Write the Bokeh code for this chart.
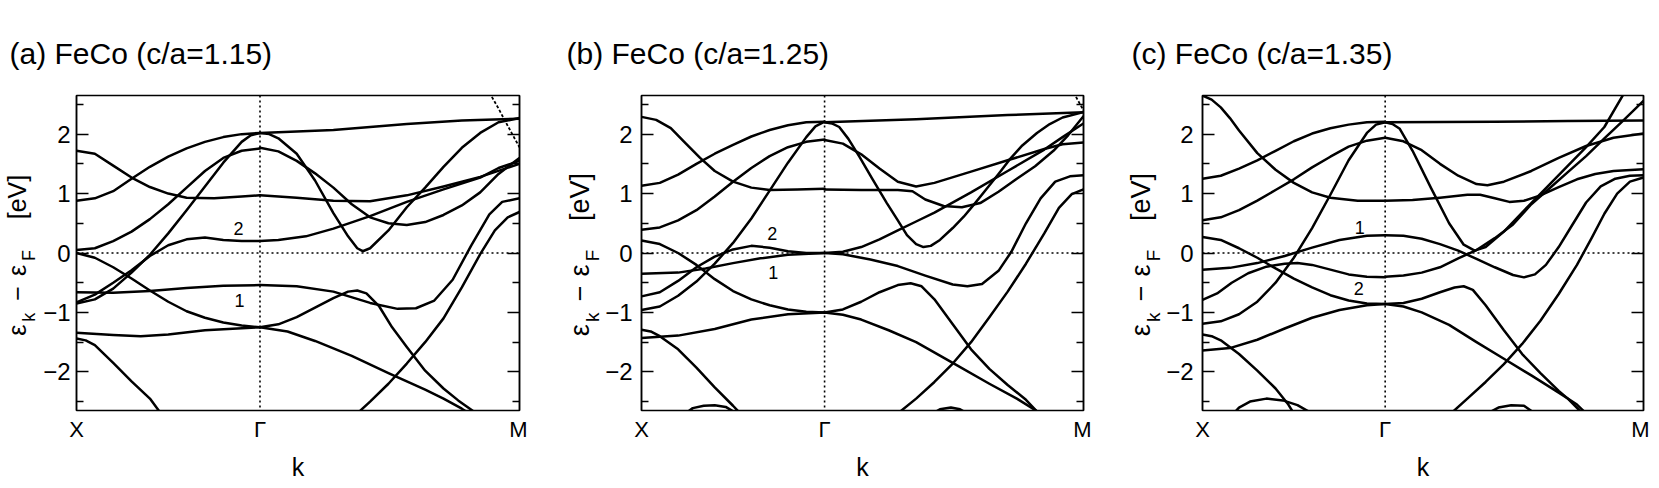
import math
from bokeh.plotting import figure
from bokeh.models import Range1d, LinearAxis, FixedTicker, Span, ColumnDataSource
from bokeh.layouts import row
from bokeh.embed import file_html
from bokeh.resources import INLINE
from bokeh.core.properties import value

KM = 1 + math.sqrt(2)          # position of M (X=0, Gamma=1)
TITLES = ["(a) FeCo (c/a=1.15)", "(b) FeCo (c/a=1.25)", "(c) FeCo (c/a=1.35)"]
K_POINTS = [0, 1, KM]
K_LABELS = ["X", "\u0393", "M"]
Y_TICKS = [-2, -1, 0, 1, 2]
Y_MINOR = [-2.5, -1.5, -0.5, 0.5, 1.5, 2.5]
# pieces of the y-axis title  "eps_k - eps_F  [eV]"  (position along the axis in eV)
YLAB_MAIN_POS = [-1.30, -0.68, -0.295, 0.942]
YLAB_MAIN_TXT = ["\u03b5", "\u2212", "\u03b5", "[eV]"]
YLAB_SUB_POS = [-1.08, -0.04]
YLAB_SUB_TXT = ["k", "F"]

# band labels "1" and "2" (k, E, text)
A_TAGS_K = [0.883, 0.888]; A_TAGS_E = [0.41, -0.80]; A_TAGS_T = ["2", "1"]
B_TAGS_K = [0.714, 0.719]; B_TAGS_E = [0.33, -0.33]; B_TAGS_T = ["2", "1"]
C_TAGS_K = [0.861, 0.856]; C_TAGS_E = [0.43, -0.60]; C_TAGS_T = ["1", "2"]

# ---- panel (a) c/a = 1.15 : bands as (k, E[eV]) ----
A_BANDS = [
    [(0,1.72),(0.1,1.67),(0.2,1.47),(0.3,1.27),(0.4,1.11),(0.5,1.0),(0.6,0.93),(0.75,0.92),(0.9,0.95),(1.0,0.97)],
    [(0,0.88),(0.1,0.92),(0.2,1.04),(0.3,1.25),(0.4,1.45),(0.5,1.62),(0.6,1.76),(0.7,1.87),(0.8,1.95),(0.9,2.0),(1.0,2.02)],
    [(0,0.05),(0.1,0.08),(0.2,0.2),(0.3,0.36),(0.4,0.57),(0.5,0.82),(0.6,1.1),(0.7,1.38),(0.8,1.6),(0.9,1.72),(1.0,1.76)],
    [(0,-0.85),(0.1,-0.78),(0.2,-0.6),(0.3,-0.33),(0.4,-0.03),(0.5,0.33),(0.6,0.72),(0.7,1.12),(0.8,1.52),(0.9,1.87),(0.95,1.98),(1.0,2.02)],
    [(0,-0.83),(0.1,-0.7),(0.2,-0.5),(0.3,-0.29),(0.4,-0.05),(0.5,0.13),(0.6,0.23),(0.7,0.26),(0.8,0.22),(0.9,0.2),(1.0,0.2)],
    [(0,0.0),(0.1,-0.08),(0.2,-0.24),(0.3,-0.43),(0.4,-0.63),(0.5,-0.82),(0.6,-0.98),(0.7,-1.09),(0.8,-1.17),(0.9,-1.22),(1.0,-1.25)],
    [(0,-0.66),(0.2,-0.67),(0.4,-0.64),(0.6,-0.59),(0.8,-0.55),(1.0,-0.54)],
    [(0,-1.34),(0.2,-1.38),(0.35,-1.4),(0.5,-1.37),(0.7,-1.3),(1.0,-1.25)],
    [(0,-1.44),(0.05,-1.47),(0.1,-1.55),(0.2,-1.85),(0.3,-2.16),(0.4,-2.45),(0.46,-2.7)],
    [(1.0,2.02),(1.4,2.07),(1.8,2.17),(2.1,2.23),(2.414,2.26)],
    [(1.0,2.02),(1.05,2.0),(1.1,1.93),(1.2,1.67),(1.3,1.22),(1.4,0.67),(1.48,0.28),(1.53,0.08),(1.56,0.03),(1.6,0.08),(1.7,0.38),(1.8,0.77),(1.9,1.1),(2.0,1.45),(2.1,1.77),(2.2,2.02),(2.3,2.2),(2.414,2.27)],
    [(1.0,1.77),(1.1,1.71),(1.2,1.55),(1.3,1.34),(1.4,1.1),(1.5,0.82),(1.6,0.6),(1.7,0.5),(1.8,0.47),(1.9,0.52),(2.0,0.64),(2.1,0.8),(2.2,1.02),(2.3,1.33),(2.414,1.6)],
    [(1.0,0.97),(1.2,0.93),(1.4,0.88),(1.6,0.87),(1.8,0.97),(2.0,1.12),(2.2,1.28),(2.414,1.5)],
    [(1.0,0.2),(1.1,0.22),(1.25,0.28),(1.4,0.41),(1.6,0.62),(1.8,0.86),(2.0,1.07),(2.2,1.27),(2.3,1.43),(2.414,1.55)],
    [(1.0,-0.54),(1.2,-0.56),(1.4,-0.65),(1.6,-0.84),(1.75,-0.94),(1.85,-0.93),(1.95,-0.8),(2.05,-0.45),(2.15,0.12),(2.25,0.65),(2.32,0.86),(2.414,0.92)],
    [(1.0,-1.25),(1.1,-1.2),(1.2,-1.08),(1.3,-0.92),(1.4,-0.76),(1.48,-0.65),(1.53,-0.63),(1.58,-0.68),(1.65,-0.9),(1.72,-1.25),(1.8,-1.58),(1.9,-1.98),(2.0,-2.28),(2.08,-2.48),(2.18,-2.7)],
    [(1.0,-1.25),(1.15,-1.32),(1.3,-1.48),(1.5,-1.73),(1.7,-2.02),(1.9,-2.3),(2.0,-2.45),(2.1,-2.62),(2.14,-2.7)],
    [(1.53,-2.7),(1.6,-2.5),(1.7,-2.2),(1.8,-1.86),(1.9,-1.5),(2.0,-1.1),(2.1,-0.58),(2.2,-0.02),(2.28,0.38),(2.35,0.6),(2.414,0.69)],
]
A_DASHED = [[(2.25,2.7),(2.3,2.43),(2.35,2.14),(2.414,1.78)]]

# ---- panel (b) c/a = 1.25 ----
B_BANDS = [
    [(0,2.29),(0.08,2.24),(0.16,2.1),(0.24,1.85),(0.32,1.6),(0.4,1.38),(0.5,1.2),(0.6,1.1),(0.7,1.06),(0.85,1.07),(1.0,1.08)],
    [(0,1.13),(0.1,1.18),(0.2,1.32),(0.3,1.5),(0.4,1.67),(0.5,1.82),(0.6,1.96),(0.7,2.07),(0.8,2.15),(0.9,2.2),(1.0,2.21)],
    [(0,0.39),(0.1,0.43),(0.2,0.55),(0.3,0.72),(0.4,0.95),(0.5,1.2),(0.6,1.43),(0.7,1.63),(0.8,1.78),(0.9,1.87),(1.0,1.91)],
    [(0,0.21),(0.1,0.15),(0.2,0.0),(0.3,-0.2),(0.4,-0.44),(0.5,-0.64),(0.6,-0.78),(0.7,-0.88),(0.8,-0.95),(0.9,-0.99),(1.0,-1.0)],
    [(0,-0.35),(0.2,-0.33),(0.35,-0.26),(0.5,-0.17),(0.65,-0.09),(0.8,-0.03),(1.0,0.0)],
    [(0,-0.73),(0.1,-0.66),(0.2,-0.47),(0.3,-0.24),(0.4,-0.06),(0.5,0.06),(0.6,0.12),(0.7,0.09),(0.8,0.03),(0.9,0.0),(1.0,0.0)],
    [(0,-0.96),(0.1,-0.9),(0.2,-0.72),(0.3,-0.48),(0.4,-0.18),(0.5,0.17),(0.6,0.58),(0.7,1.05),(0.8,1.52),(0.9,1.95),(0.95,2.13),(1.0,2.21)],
    [(0,-1.43),(0.2,-1.39),(0.4,-1.28),(0.6,-1.12),(0.8,-1.03),(1.0,-1.0)],
    [(0,-1.29),(0.05,-1.32),(0.1,-1.4),(0.2,-1.62),(0.3,-1.93),(0.4,-2.26),(0.5,-2.57),(0.54,-2.7)],
    [(0.24,-2.7),(0.28,-2.61),(0.34,-2.57),(0.4,-2.56),(0.46,-2.59),(0.52,-2.7)],
    [(1.0,2.2),(1.5,2.25),(2.0,2.32),(2.414,2.37)],
    [(1.0,2.2),(1.04,2.18),(1.08,2.12),(1.13,1.92),(1.19,1.62),(1.26,1.25),(1.34,0.84),(1.4,0.55),(1.45,0.3),(1.5,0.15),(1.54,0.1),(1.58,0.12),(1.63,0.22),(1.7,0.42),(1.76,0.61),(1.82,0.83),(1.88,1.06),(1.95,1.33),(2.01,1.57),(2.08,1.81),(2.16,2.02),(2.23,2.17),(2.3,2.28),(2.414,2.37)],
    [(1.0,1.9),(1.1,1.84),(1.2,1.66),(1.3,1.42),(1.4,1.2),(1.5,1.12),(1.6,1.18),(1.8,1.37),(2.0,1.56),(2.2,1.75),(2.3,1.83),(2.414,1.86)],
    [(1.0,1.07),(1.2,1.06),(1.4,1.06),(1.48,1.04),(1.55,0.9),(1.65,0.79),(1.75,0.77),(1.85,0.84),(1.95,1.03),(2.05,1.25),(2.15,1.46),(2.25,1.72),(2.33,1.98),(2.414,2.3)],
    [(1.0,0.0),(1.1,0.02),(1.2,0.1),(1.3,0.23),(1.4,0.38),(1.5,0.53),(1.6,0.68),(1.8,1.02),(2.0,1.38),(2.2,1.74),(2.3,1.95),(2.414,2.18)],
    [(1.0,0.0),(1.1,-0.02),(1.25,-0.11),(1.4,-0.22),(1.55,-0.38),(1.7,-0.53),(1.78,-0.56),(1.86,-0.52),(1.95,-0.3),(2.02,0.02),(2.1,0.5),(2.18,0.92),(2.26,1.2),(2.34,1.29),(2.414,1.31)],
    [(1.4,-2.7),(1.5,-2.45),(1.6,-2.17),(1.7,-1.86),(1.8,-1.5),(1.9,-1.08),(2.0,-0.65),(2.1,-0.18),(2.2,0.33),(2.28,0.76),(2.35,0.99),(2.414,1.07)],
    [(1.0,-1.0),(1.1,-0.95),(1.2,-0.82),(1.3,-0.66),(1.4,-0.54),(1.47,-0.51),(1.53,-0.56),(1.6,-0.78),(1.7,-1.2),(1.8,-1.62),(1.9,-1.95),(2.0,-2.22),(2.1,-2.47),(2.17,-2.7)],
    [(1.0,-1.0),(1.1,-1.04),(1.2,-1.12),(1.35,-1.3),(1.5,-1.5),(1.7,-1.85),(1.9,-2.2),(2.05,-2.45),(2.18,-2.7)],
    [(1.59,-2.7),(1.63,-2.63),(1.69,-2.6),(1.74,-2.63),(1.78,-2.7)],
]
B_DASHED = [[(2.36,2.7),(2.414,2.4)]]

# ---- panel (c) c/a = 1.35 ----
C_BANDS = [
    [(0,2.65),(0.05,2.58),(0.1,2.45),(0.15,2.27),(0.2,2.06),(0.3,1.68),(0.4,1.4),(0.5,1.18),(0.6,1.02),(0.7,0.93),(0.85,0.88),(1.0,0.88)],
    [(0,1.25),(0.1,1.3),(0.2,1.42),(0.3,1.56),(0.4,1.72),(0.5,1.88),(0.6,2.01),(0.7,2.1),(0.8,2.16),(0.9,2.2),(1.0,2.21)],
    [(0,0.55),(0.1,0.6),(0.2,0.72),(0.3,0.88),(0.4,1.06),(0.5,1.24),(0.6,1.44),(0.7,1.62),(0.8,1.79),(0.9,1.89),(1.0,1.94)],
    [(0,0.27),(0.1,0.22),(0.2,0.08),(0.3,-0.08),(0.4,-0.26),(0.5,-0.43),(0.6,-0.58),(0.7,-0.71),(0.8,-0.8),(0.9,-0.85),(1.0,-0.86)],
    [(0,-0.28),(0.15,-0.25),(0.3,-0.17),(0.45,-0.05),(0.6,0.09),(0.75,0.22),(0.9,0.29),(1.0,0.3)],
    [(0,-0.79),(0.08,-0.68),(0.16,-0.5),(0.25,-0.34),(0.35,-0.23),(0.45,-0.18),(0.52,-0.17),(0.6,-0.2),(0.7,-0.28),(0.8,-0.36),(0.9,-0.4),(1.0,-0.41)],
    [(0,-1.19),(0.1,-1.15),(0.2,-1.03),(0.3,-0.82),(0.4,-0.5),(0.5,-0.08),(0.6,0.42),(0.7,0.98),(0.8,1.56),(0.9,2.02),(0.95,2.16),(1.0,2.2)],
    [(0,-1.64),(0.15,-1.6),(0.3,-1.46),(0.45,-1.27),(0.6,-1.09),(0.75,-0.96),(0.9,-0.88),(1.0,-0.86)],
    [(0,-1.37),(0.05,-1.4),(0.1,-1.47),(0.2,-1.7),(0.3,-1.98),(0.4,-2.28),(0.47,-2.55),(0.5,-2.7)],
    [(0.17,-2.7),(0.2,-2.6),(0.26,-2.5),(0.35,-2.45),(0.44,-2.48),(0.52,-2.56),(0.6,-2.7)],
    [(1.0,2.2),(1.6,2.21),(2.0,2.22),(2.414,2.23)],
    [(1.0,2.2),(1.04,2.17),(1.08,2.09),(1.15,1.72),(1.25,1.1),(1.35,0.5),(1.43,0.14),(1.49,0.04),(1.55,0.1),(1.65,0.36),(1.8,0.84),(1.95,1.31),(2.1,1.78),(2.2,2.12),(2.31,2.7)],
    [(1.0,-0.4),(1.1,-0.38),(1.2,-0.33),(1.3,-0.24),(1.4,-0.09),(1.5,0.05),(1.6,0.25),(1.7,0.48),(1.8,0.82),(1.9,1.09),(2.0,1.36),(2.1,1.63),(2.2,1.93),(2.3,2.22),(2.414,2.56)],
    [(1.0,1.94),(1.1,1.88),(1.2,1.73),(1.3,1.5),(1.4,1.3),(1.5,1.16),(1.56,1.14),(1.65,1.2),(1.8,1.38),(1.95,1.6),(2.1,1.8),(2.25,1.94),(2.414,2.01)],
    [(1.0,0.88),(1.15,0.89),(1.3,0.93),(1.45,0.98),(1.52,0.98),(1.6,0.92),(1.68,0.86),(1.76,0.88),(1.85,0.97),(1.95,1.11),(2.05,1.24),(2.15,1.33),(2.25,1.38),(2.414,1.41)],
    [(1.0,0.3),(1.1,0.29),(1.2,0.24),(1.3,0.15),(1.4,0.04),(1.5,-0.1),(1.6,-0.24),(1.7,-0.37),(1.76,-0.41),(1.82,-0.36),(1.88,-0.2),(1.95,0.1),(2.02,0.45),(2.1,0.85),(2.18,1.12),(2.26,1.25),(2.34,1.3),(2.414,1.31)],
    [(1.36,-2.7),(1.45,-2.45),(1.55,-2.17),(1.65,-1.87),(1.75,-1.53),(1.85,-1.14),(1.95,-0.69),(2.05,-0.2),(2.13,0.25),(2.2,0.66),(2.27,1.0),(2.34,1.2),(2.414,1.27)],
    [(1.0,-0.86),(1.1,-0.84),(1.2,-0.77),(1.3,-0.66),(1.38,-0.58),(1.43,-0.56),(1.48,-0.62),(1.55,-0.88),(1.65,-1.3),(1.75,-1.7),(1.85,-2.02),(1.95,-2.32),(2.0,-2.45),(2.08,-2.7)],
    [(1.0,-0.86),(1.1,-0.9),(1.2,-1.0),(1.35,-1.21),(1.5,-1.5),(1.65,-1.78),(1.8,-2.06),(1.95,-2.35),(2.05,-2.55),(2.1,-2.7)],
    [(1.56,-2.7),(1.62,-2.6),(1.69,-2.56),(1.76,-2.57),(1.82,-2.7)],
]
C_DASHED = []

FONT = "Liberation Sans"


def text_axis(ticks, texts, fs, standoff):
    return LinearAxis(ticker=FixedTicker(ticks=ticks),
                      major_label_overrides={t: s for t, s in zip(ticks, texts)},
                      major_label_orientation="parallel",
                      major_label_text_font=FONT, major_label_text_font_size=fs,
                      major_label_text_color="black", major_label_standoff=standoff,
                      major_tick_line_color=None, minor_tick_line_color=None,
                      axis_line_color=None, major_tick_in=0, major_tick_out=0,
                      minor_tick_in=0, minor_tick_out=0)


def make_panel(title, bands, dashed, tags, left, frame_w, right, title_off,
               ya_so, sub_fs, sub_so, main_fs, main_so):
    p = figure(frame_width=frame_w, frame_height=315, output_backend="svg", toolbar_location=None,
               x_range=Range1d(0, KM), y_range=Range1d(-2.65, 2.65),
               min_border_left=left, min_border_right=right,
               min_border_top=95, min_border_bottom=75)
    p.background_fill_color = "white"
    p.border_fill_color = "white"
    p.outline_line_color = "black"
    p.outline_line_width = 1.5
    p.outline_line_alpha = 1.0
    p.xgrid.visible = False
    p.ygrid.visible = False

    # title
    p.title.text = title
    p.title.align = "left"
    p.title.offset = title_off
    p.title.standoff = 52
    p.title.text_font = FONT
    p.title.text_font_size = "30px"
    p.title.text_font_style = "normal"
    p.title.text_color = "black"

    # x axis: X, Gamma, M and "k"
    xa = p.xaxis[0]
    xa.ticker = FixedTicker(ticks=K_POINTS)
    xa.major_label_overrides = {t: s for t, s in zip(K_POINTS, K_LABELS)}
    xa.major_label_text_font = FONT
    xa.major_label_text_font_size = "22px"
    xa.major_label_text_color = "black"
    xa.major_label_standoff = 6
    xa.major_tick_line_color = None
    xa.minor_tick_line_color = None
    xa.major_tick_in = 0
    xa.major_tick_out = 0
    xa.axis_line_color = None
    xa.axis_label = "k"
    xa.axis_label_text_font = FONT
    xa.axis_label_text_font_size = "25px"
    xa.axis_label_text_font_style = "normal"
    xa.axis_label_text_color = "black"
    xa.axis_label_standoff = 8

    # y axis with numbers
    ya = p.yaxis[0]
    ya.ticker = FixedTicker(ticks=Y_TICKS, minor_ticks=Y_MINOR)
    ya.major_label_overrides = {-2: "\u22122", -1: "\u22121", 0: "0", 1: "1", 2: "2"}
    ya.major_label_text_font = FONT
    ya.major_label_text_font_size = "24px"
    ya.major_label_text_color = "black"
    ya.major_label_standoff = ya_so
    ya.major_tick_in = 12
    ya.major_tick_out = 0
    ya.minor_tick_in = 7
    ya.minor_tick_out = 0
    ya.major_tick_line_width = 1.5
    ya.minor_tick_line_width = 1.5
    ya.axis_line_width = 1.5

    # y-axis title made of pieces (subscripts closer to the frame)
    p.add_layout(text_axis(YLAB_SUB_POS, YLAB_SUB_TXT, sub_fs, sub_so), "left")
    p.add_layout(text_axis(YLAB_MAIN_POS, YLAB_MAIN_TXT, main_fs, main_so), "left")

    # right axis: ticks only
    ra = LinearAxis(ticker=FixedTicker(ticks=Y_TICKS, minor_ticks=Y_MINOR),
                    major_label_text_font_size="1px", major_label_text_color=None,
                    major_label_standoff=0,
                    major_tick_in=12, major_tick_out=0, minor_tick_in=7, minor_tick_out=0,
                    major_tick_line_width=1.5, minor_tick_line_width=1.5, axis_line_width=1.5)
    p.add_layout(ra, "right")

    p.add_layout(Span(location=0, dimension="width", line_color="black",
                      line_dash="2 3", line_width=1.6))
    p.add_layout(Span(location=1, dimension="height", line_color="black",
                      line_dash="2 3", line_width=1.6))

    src = ColumnDataSource(dict(xs=[[k for k, e in b] for b in bands],
                                ys=[[e for k, e in b] for b in bands]))
    p.multi_line("xs", "ys", source=src, line_color="black", line_width=2.5,
                 line_join="round", line_cap="round")
    if dashed:
        dsrc = ColumnDataSource(dict(xs=[[k for k, e in b] for b in dashed],
                                     ys=[[e for k, e in b] for b in dashed]))
        p.multi_line("xs", "ys", source=dsrc, line_color="black", line_width=1.8, line_dash="3 2")

    tk, te, tt = tags
    p.text(x=tk, y=te, text=tt, text_font=value(FONT), text_font_size="18px",
           text_align="center", text_baseline="middle", text_color="black")
    return p


# frames at page x: a 75..518, b 640..1082, c 1201..1642
pa = make_panel(TITLES[0], A_BANDS, A_DASHED, (A_TAGS_K, A_TAGS_E, A_TAGS_T),
                67, 443, 8, -67, 6, "18px", 1, "25px", -15)
pb = make_panel(TITLES[1], B_BANDS, B_DASHED, (B_TAGS_K, B_TAGS_E, B_TAGS_T),
                114, 442, 8, -75, 9, "19px", -1, "27px", -16)
pc = make_panel(TITLES[2], C_BANDS, C_DASHED, (C_TAGS_K, C_TAGS_E, C_TAGS_T),
                111, 441, 6, -71, 9, "19px", -1, "27px", -16)

layout = row(pa, pb, pc)
open("out.html", "w").write(file_html(layout, INLINE))
